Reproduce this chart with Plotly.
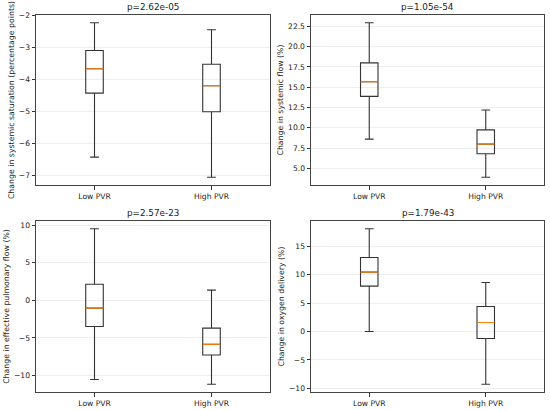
import plotly.graph_objects as go
from plotly.subplots import make_subplots

# categories and box statistics
groups = ["Low PVR", "High PVR"]
positions = [1, 2]

titles = ["p=2.62e-05", "p=1.05e-54", "p=2.57e-23", "p=1.79e-43"]
ylabels = [
    "Change in systemic saturation (percentage points)",
    "Change in systemic flow (%)",
    "Change in effective pulmonary flow (%)",
    "Change in oxygen delivery (%)",
]

# [low, high] per panel
sat_lo = [-6.44, -7.07]
sat_q1 = [-4.44, -5.02]
sat_med = [-3.68, -4.21]
sat_q3 = [-3.11, -3.54]
sat_hi = [-2.24, -2.46]

sys_lo = [8.6, 3.9]
sys_q1 = [13.87, 6.8]
sys_med = [15.67, 7.98]
sys_q3 = [18.0, 9.74]
sys_hi = [22.95, 12.2]

pulm_lo = [-10.53, -11.15]
pulm_q1 = [-3.47, -7.26]
pulm_med = [-1.04, -5.85]
pulm_q3 = [2.14, -3.69]
pulm_hi = [9.51, 1.35]

o2_lo = [0.0, -9.29]
o2_q1 = [8.0, -1.24]
o2_med = [10.47, 1.59]
o2_q3 = [13.06, 4.41]
o2_hi = [18.12, 8.65]

panels = [
    (sat_lo, sat_q1, sat_med, sat_q3, sat_hi, [-2, -3, -4, -5, -6, -7], None),
    (sys_lo, sys_q1, sys_med, sys_q3, sys_hi, [5, 7.5, 10, 12.5, 15, 17.5, 20, 22.5], ".1f"),
    (pulm_lo, pulm_q1, pulm_med, pulm_q3, pulm_hi, [-10, -5, 0, 5, 10], None),
    (o2_lo, o2_q1, o2_med, o2_q3, o2_hi, [-10, -5, 0, 5, 10, 15], None),
]

W, H = 550, 410


def px_x(x):
    return x / W


def px_y(y):
    return 1 - y / H


xdoms = [[px_x(36), px_x(270)], [px_x(311), px_x(544)]]
ydoms = [[px_y(185), px_y(15)], [px_y(392), px_y(221)]]

fig = make_subplots(rows=2, cols=2)

box_w = 0.15
font = "DejaVu Sans, Liberation Sans, sans-serif"

for i, (lo, q1, med, q3, hi, ticks, fmt) in enumerate(panels):
    r, c = i // 2 + 1, i % 2 + 1
    fig.add_trace(go.Box(
        x=positions, lowerfence=lo, q1=q1, median=med, q3=q3, upperfence=hi,
        width=box_w, whiskerwidth=0.5, fillcolor="rgba(0,0,0,0)",
        line=dict(color="#333333", width=1.1), boxpoints=False, hoverinfo="skip",
        showlegend=False,
    ), row=r, col=c)
    for p, m in zip(positions, med):
        fig.add_trace(go.Scatter(
            x=[p - box_w / 2, p + box_w / 2], y=[m, m], mode="lines",
            line=dict(color="#ff7f0e", width=1.1), showlegend=False, hoverinfo="skip",
        ), row=r, col=c)

    lo_all, hi_all = min(lo), max(hi)
    pad = (hi_all - lo_all) * 0.05
    ticktext = [(format(t, fmt) if fmt else str(t)).replace("-", "\u2212") for t in ticks]
    fig.update_yaxes(
        range=[lo_all - pad, hi_all + pad], tickvals=ticks, ticktext=ticktext,
        showgrid=True, gridcolor="#eeeeee", gridwidth=1, zeroline=False,
        ticks="outside", ticklen=3.5, tickcolor="#333333",
        showline=True, linecolor="#444444", mirror=True, linewidth=1,
        tickfont=dict(size=7.6, color="#222222", family=font),
        title=dict(text=ylabels[i], font=dict(size=7.8, color="#222222", family=font), standoff=3),
        automargin=False, domain=ydoms[r - 1], row=r, col=c,
    )
    fig.update_xaxes(
        range=[0.5, 2.5], tickvals=positions, ticktext=groups,
        showgrid=False, zeroline=False, ticks="outside", ticklen=3.5, tickcolor="#333333",
        showline=True, linecolor="#444444", mirror=True, linewidth=1,
        tickfont=dict(size=7.6, color="#222222", family=font),
        automargin=False, domain=xdoms[c - 1], row=r, col=c,
    )
    fig.add_annotation(
        text=titles[i], x=sum(xdoms[c - 1]) / 2, y=ydoms[r - 1][1], xref="paper", yref="paper",
        xanchor="center", yanchor="bottom", yshift=1, showarrow=False,
        font=dict(size=8.8, color="#222222", family=font),
    )

fig.update_layout(
    width=W, height=H, margin=dict(l=0, r=0, t=0, b=0),
    paper_bgcolor="white", plot_bgcolor="white",
)

# drop the default 8px page margin so the figure fills the window
fig.write_html("out.html", config={"displayModeBar": False},
               post_script="document.body.style.margin='0px';")
